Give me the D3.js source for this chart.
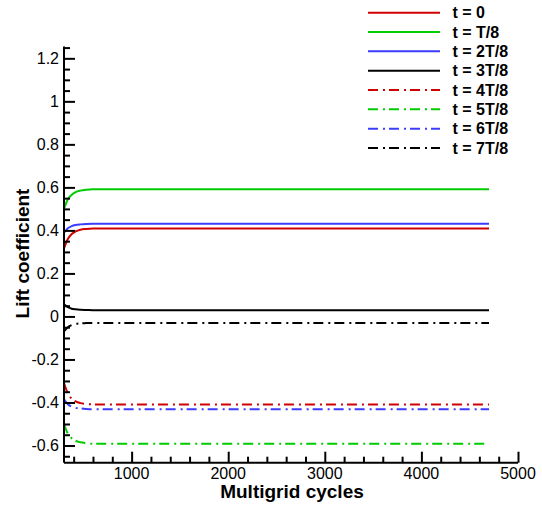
<!DOCTYPE html>
<html>
<head>
<meta charset="utf-8">
<script src="https://cdn.jsdelivr.net/npm/d3@7"></script>
<style>
	body { margin: 0; background: #fff; }
	svg { display: block; font-family: Arial, "Liberation Sans", sans-serif; }
</style>
</head>
<body>
<div id="chart"></div>
<script>
// cycles sampled along each curve
const cycles = [300, 340, 380, 420, 470, 530, 600, 4700];

// lift coefficient per phase
const t0 = [0.316, 0.36, 0.383, 0.395, 0.403, 0.407, 0.409, 0.409];
const t1 = [0.50, 0.545, 0.566, 0.578, 0.585, 0.589, 0.591, 0.591];
const t2 = [0.39, 0.41, 0.42, 0.425, 0.428, 0.43, 0.431, 0.431];
const t3 = [0.057, 0.043, 0.036, 0.033, 0.031, 0.03, 0.029, 0.029];
const t4 = [-0.31, -0.358, -0.382, -0.395, -0.403, -0.407, -0.409, -0.409];
const t5 = [-0.50, -0.545, -0.566, -0.578, -0.585, -0.589, -0.592, -0.592];
const t6 = [-0.385, -0.408, -0.419, -0.425, -0.428, -0.43, -0.431, -0.431];
const t7 = [-0.07, -0.05, -0.04, -0.035, -0.032, -0.031, -0.03, -0.03];

const seriesNames = ['t = 0', 't = T/8', 't = 2T/8', 't = 3T/8', 't = 4T/8', 't = 5T/8', 't = 6T/8', 't = 7T/8'];
const seriesValues = [t0, t1, t2, t3, t4, t5, t6, t7];

const xTicks = [1000, 2000, 3000, 4000, 5000];
const yTicks = [-0.6, -0.4, -0.2, 0, 0.2, 0.4, 0.6, 0.8, 1, 1.2];

const colors = ['#d00000', '#00cc00', '#3c3cff', '#000000'];
const dashes = [null, '10,5,2,4'];

const width = 542;
const height = 505;
const margin = { top: 46.5, right: 24, bottom: 42.3, left: 64 };

const svg = d3.select('#chart').append('svg')
	.attr('width', width)
	.attr('height', height);

const x = d3.scaleLinear()
	.domain([300, 5000])
	.range([margin.left, width - margin.right]);
const y = d3.scaleLinear()
	.domain([-0.68, 1.255])
	.range([height - margin.bottom, margin.top]);

// curves
const line = d3.line()
	.x(d => x(d[0]))
	.y(d => y(d[1]))
	.curve(d3.curveMonotoneX);

seriesValues.forEach((vals, i) => {
	svg.append('path')
		.datum(cycles.map((c, j) => [c, vals[j]]))
		.attr('d', line)
		.attr('fill', 'none')
		.attr('stroke', colors[i % 4])
		.attr('stroke-width', 2)
		.attr('stroke-dasharray', dashes[Math.floor(i / 4)]);
});

// x axis (ticks point inward)
const xAxisG = svg.append('g')
	.attr('transform', `translate(0, ${height - margin.bottom})`);
xAxisG.call(d3.axisTop(x)
	.tickValues(d3.range(400, 5001, 200))
	.tickSize(6)
	.tickFormat(''));
xAxisG.call(g => g.selectAll('.tick line').filter(d => d % 1000 === 0).attr('y2', -11));
xAxisG.selectAll('path, line').attr('stroke', '#000').attr('stroke-width', 2);
xAxisG.select('.domain').attr('d', `M${margin.left},0H${width - margin.right}`);
svg.append('g').selectAll('text')
	.data(xTicks)
	.enter().append('text')
		.attr('x', d => x(d))
		.attr('y', height - margin.bottom + 16)
		.attr('text-anchor', 'middle')
		.attr('font-size', 16)
		.text(d => d);

// y axis
const yAxisG = svg.append('g')
	.attr('transform', `translate(${margin.left}, 0)`);
yAxisG.call(d3.axisRight(y)
	.tickValues(d3.range(-0.65, 1.26, 0.05).map(v => +v.toFixed(2)))
	.tickSize(6)
	.tickFormat(''));
yAxisG.call(g => g.selectAll('.tick line')
	.filter(d => Math.abs(Math.round(d * 5) - d * 5) < 1e-6)
	.attr('x2', 11));
yAxisG.selectAll('path, line').attr('stroke', '#000').attr('stroke-width', 2);
yAxisG.select('.domain').attr('d', `M0,${margin.top}V${height - margin.bottom}`);
svg.append('g').selectAll('text')
	.data(yTicks)
	.enter().append('text')
		.attr('x', margin.left - 5)
		.attr('y', d => y(d))
		.attr('dy', '0.36em')
		.attr('text-anchor', 'end')
		.attr('font-size', 16)
		.text(d => d);

// axis titles
svg.append('text')
	.attr('x', 292)
	.attr('y', 498)
	.attr('text-anchor', 'middle')
	.attr('font-size', 19)
	.attr('font-weight', 'bold')
	.text('Multigrid cycles');
svg.append('text')
	.attr('transform', 'translate(29, 253.5) rotate(-90)')
	.attr('text-anchor', 'middle')
	.attr('font-size', 19)
	.attr('font-weight', 'bold')
	.text('Lift coefficient');

// legend
const legend = svg.append('g').selectAll('g')
	.data(seriesNames)
	.enter().append('g')
		.attr('transform', (d, i) => `translate(0, ${12.7 + i * 19.33})`);
legend.append('line')
	.attr('x1', 368)
	.attr('x2', 440)
	.attr('stroke', (d, i) => colors[i % 4])
	.attr('stroke-width', 2)
	.attr('stroke-dasharray', (d, i) => dashes[Math.floor(i / 4)]);
legend.append('text')
	.attr('x', 452.5)
	.attr('dy', '0.36em')
	.attr('font-size', 16)
	.attr('font-weight', 'bold')
	.text(d => d);
</script>
</body>
</html>
